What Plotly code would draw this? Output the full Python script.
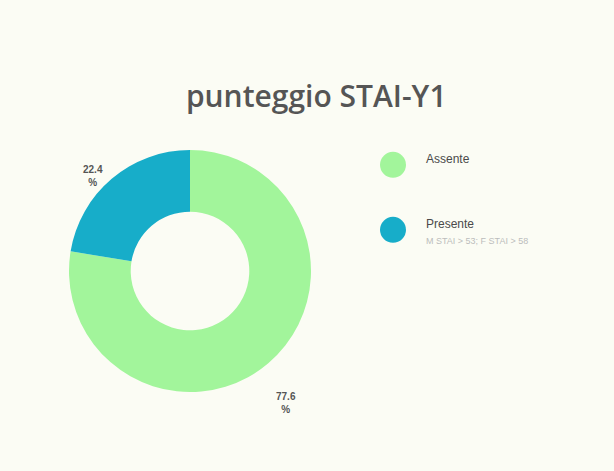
import math
import plotly.graph_objects as go

# Distribution of STAI-Y1 anxiety scores
categories = ["Assente", "Presente"]
percentages = [77.6, 22.4]
colors = ["#a2f59b", "#17adc9"]
legend_notes = ["", "M STAI > 53; F STAI > 58"]

bg = "#fbfcf4"
W, H = 614, 471

# donut geometry in pixels
cx_px, cy_px, r_px = 190, 271, 121
dom_x = [(cx_px - r_px) / W, (cx_px + r_px) / W]
dom_y = [(H - cy_px - r_px) / H, (H - cy_px + r_px) / H]

fig = go.Figure()
fig.add_trace(go.Pie(
    labels=categories,
    values=percentages,
    marker=dict(colors=colors, line=dict(width=0)),
    hole=0.49,
    sort=False,
    direction="clockwise",
    rotation=0,
    textinfo="none",
    hoverinfo="label+percent",
    showlegend=False,
    domain=dict(x=dom_x, y=dom_y),
))

annotations = []
# percentage labels outside the ring at each slice's mid-angle
label_gaps = [40, 16]
total = sum(percentages)
start = 0.0
for val, gap in zip(percentages, label_gaps):
    mid = (start + val / 2) / total * 2 * math.pi  # clockwise from 12 o'clock
    start += val
    rr = r_px + gap
    lx = cx_px + rr * math.sin(mid)
    ly = cy_px - rr * math.cos(mid)
    annotations.append(dict(x=lx / W, y=1 - ly / H, xref="paper", yref="paper",
                            text=f"<b>{val}<br>%</b>", showarrow=False,
                            xanchor="center", yanchor="middle",
                            xshift=-8, yshift=-9,
                            font=dict(family="Liberation Sans", size=10, color="#555555")))

shapes = []
legend_y = [0.650, 0.512]
for name, col, note, ly in zip(categories, colors, legend_notes, legend_y):
    # big round legend marker
    r_x = 13 / W
    r_y = 13 / H
    mx = 393 / W
    shapes.append(dict(type="circle", xref="paper", yref="paper",
                       x0=mx - r_x, x1=mx + r_x, y0=ly - r_y, y1=ly + r_y,
                       fillcolor=col, line=dict(width=0)))
    annotations.append(dict(x=424 / W, y=ly + 0.012, xref="paper", yref="paper",
                            text=name, showarrow=False, xanchor="left", yanchor="middle",
                            font=dict(family="Liberation Sans", size=12, color="#4a4a4a")))
    if note:
        annotations.append(dict(x=424 / W, y=ly - 0.024, xref="paper", yref="paper",
                                text=note, showarrow=False, xanchor="left", yanchor="middle",
                                font=dict(family="Liberation Sans", size=9, color="#bcbcbc")))

fig.update_layout(
    width=W, height=H,
    margin=dict(l=0, r=0, t=0, b=0),
    paper_bgcolor=bg, plot_bgcolor=bg,
    title=dict(text="punteggio STAI-Y1", x=0.515, xanchor="center",
               y=1 - 96 / H, yanchor="middle",
               font=dict(family="Open Sans", size=30, color="#555555", weight=600)),
    shapes=shapes,
    annotations=annotations,
)

fig.write_html("out.html")
